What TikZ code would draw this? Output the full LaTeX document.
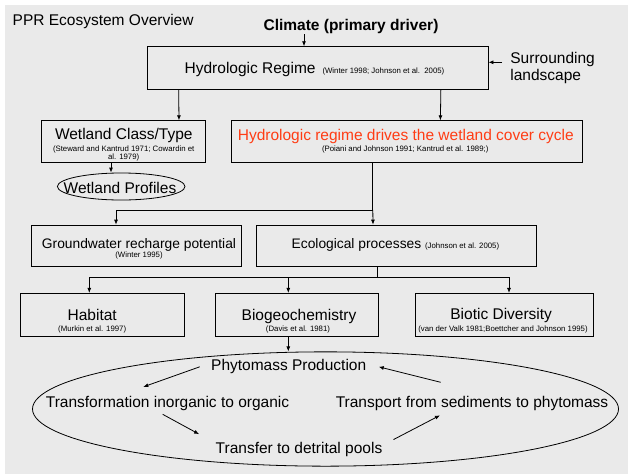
\documentclass[tikz,border=0pt]{standalone}
\usepackage{fontspec}
\setmainfont{Liberation Sans}
\usepackage{xcolor}
\usepackage{tikz}
\usetikzlibrary{arrows.meta,shapes.geometric}
\tikzset{>={Latex[width=4pt,length=5pt]}}
\definecolor{slidegray}{RGB}{234,234,234}
\definecolor{cyclered}{RGB}{255,60,20}
\newcommand{\bigsz}{\fontsize{15.5pt}{17.5pt}\selectfont}
\newcommand{\midsz}{\fontsize{13.8pt}{16pt}\selectfont}
\newcommand{\citesz}{\fontsize{7.8pt}{8.5pt}\selectfont}

\begin{document}
\begin{tikzpicture}[->, x=1pt, y=-1pt, line width=0.8pt]
	\tikzstyle{box}=[draw=black, rectangle, inner sep=0pt]
	\tikzstyle{oval}=[draw=black, ellipse, inner sep=0pt]
	\tikzstyle{txt}=[inner sep=0pt, anchor=base, font=\bigsz]
	\tikzstyle{refs}=[inner sep=0pt, anchor=base, font=\citesz]

	\useasboundingbox (0,0) rectangle (628,474);
	\fill[slidegray] (4.5,5) rectangle (628,474);

	\node[txt, anchor=base west] (title) at (12.3,25) {PPR Ecosystem Overview};
	\node[txt, font=\bigsz\bfseries] (climate) at (351,30.5) {Climate (primary driver)};

	\node[box, minimum width=340.7pt, minimum height=42.6pt] (hydro) at (317.7,68) {};
	\node[txt] (hydro-t) at (314.5,73) {Hydrologic Regime\, {\citesz(Winter 1998; Johnson et al.\ \ 2005)}};
	\node[txt, anchor=west, align=left] (surround) at (510,68) {Surrounding\\landscape};

	\node[box, minimum width=163.3pt, minimum height=41.6pt] (wclass) at (123.4,141.5) {};
	\node[txt] (wclass-t) at (123.8,139.3) {Wetland Class/Type};
	\node[refs, anchor=north, align=center] (wclass-c) at (123.7,145.3) {(Steward and Kantrud 1971; Cowardin et\\al. 1979)};

	\node[oval, minimum width=127.6pt, minimum height=27pt] (profiles) at (121.2,186.5) {};
	\node[txt] (profiles-t) at (120,193.5) {Wetland Profiles};

	\node[box, minimum width=351pt, minimum height=41.3pt] (cycle) at (407.2,141.4) {};
	\node[txt, text=cyclered] (cycle-t) at (405.8,140) {Hydrologic regime drives the wetland cover cycle};
	\node[refs] (cycle-c) at (405.2,151) {(Poiani and Johnson 1991; Kantrud et al. 1989;)};

	\node[box, minimum width=210pt, minimum height=41.7pt] (gw) at (136.7,245.9) {};
	\node[txt, font=\midsz] (gw-t) at (139,248.3) {Groundwater recharge potential};
	\node[refs] (gw-c) at (139,257) {(Winter 1995)};

	\node[box, minimum width=279.6pt, minimum height=41.7pt] (eco) at (396.2,245.9) {};
	\node[txt, font=\midsz] (eco-t) at (395.4,248.3) {Ecological processes {\citesz(Johnson et al. 2005)}};

	\node[box, minimum width=163.3pt, minimum height=42.7pt] (habitat) at (102.4,314.7) {};
	\node[txt] (habitat-t) at (92.2,320) {Habitat};
	\node[refs] (habitat-c) at (92.2,331.5) {(Murkin et al. 1997)};

	\node[box, minimum width=162.6pt, minimum height=42.7pt] (biogeo) at (297,314.7) {};
	\node[txt] (biogeo-t) at (299,320) {Biogeochemistry};
	\node[refs] (biogeo-c) at (298,331.5) {(Davis et al. 1981)};

	\node[box, minimum width=178.3pt, minimum height=42.7pt] (biotic) at (504.2,314.7) {};
	\node[txt] (biotic-t) at (501.2,319.5) {Biotic Diversity};
	\node[refs] (biotic-c) at (503,331) {(van der Valk 1981;Boettcher and Johnson 1995)};

	\node[oval, minimum width=586pt, minimum height=114.3pt] (prod) at (325.5,409) {};
	\node[txt] (phyto) at (288.7,370.8) {Phytomass Production};
	\node[txt] (transf) at (167.5,407.2) {Transformation inorganic to organic};
	\node[txt] (transp) at (472,407.2) {Transport from sediments to phytomass};
	\node[txt] (detr) at (299,453.8) {Transfer to detrital pools};

	\draw ([xshift=-47pt]climate.south) -- ([xshift=-13.7pt]hydro.north);
	\draw ([xshift=-8pt,yshift=5.7pt]surround.west) -- ([yshift=5.7pt]hydro.east);
	\draw ([xshift=31.7pt]hydro.south west) -- ([xshift=55.6pt]wclass.north);
	\draw ([xshift=-47.6pt]hydro.south east) -- ([xshift=33.2pt]cycle.north);
	\draw ([xshift=-12.4pt]wclass.south) -- ([xshift=-10.2pt]profiles.north);

	\coordinate (split-a) at (372.8,210);
	\draw[-] ([xshift=-34.4pt]cycle.south) -- (split-a);
	\draw (split-a) -| ([xshift=-20.7pt]gw.north);
	\draw (split-a) -- ([xshift=-23.2pt]eco.north);

	\coordinate (split-b) at (377.2,277.3);
	\draw[-] ([xshift=-19pt]eco.south) -- (split-b);
	\draw (split-b) -| ([xshift=-13.1pt]habitat.north);
	\draw (split-b) -| ([xshift=-8.7pt]biogeo.north);
	\draw (split-b) -| ([xshift=4.8pt]biotic.north);
	\draw ([xshift=-8.7pt]biogeo.south) -- ([xshift=-37.2pt]prod.north);

	\draw ([xshift=-11pt]phyto.west) -- ([xshift=-24.2pt,yshift=8.7pt]transf.north);
	\draw ([xshift=-4.8pt,yshift=-3.5pt]transf.south) -- ([xshift=-16.2pt,yshift=8pt]detr.north west);
	\draw ([xshift=10.8pt,yshift=2.6pt]detr.north east) -- ([xshift=-32pt,yshift=-4.5pt]transp.south);
	\draw ([xshift=-31.3pt,yshift=13.3pt]transp.north) -- ([xshift=12.1pt]phyto.east);
\end{tikzpicture}
\end{document}
